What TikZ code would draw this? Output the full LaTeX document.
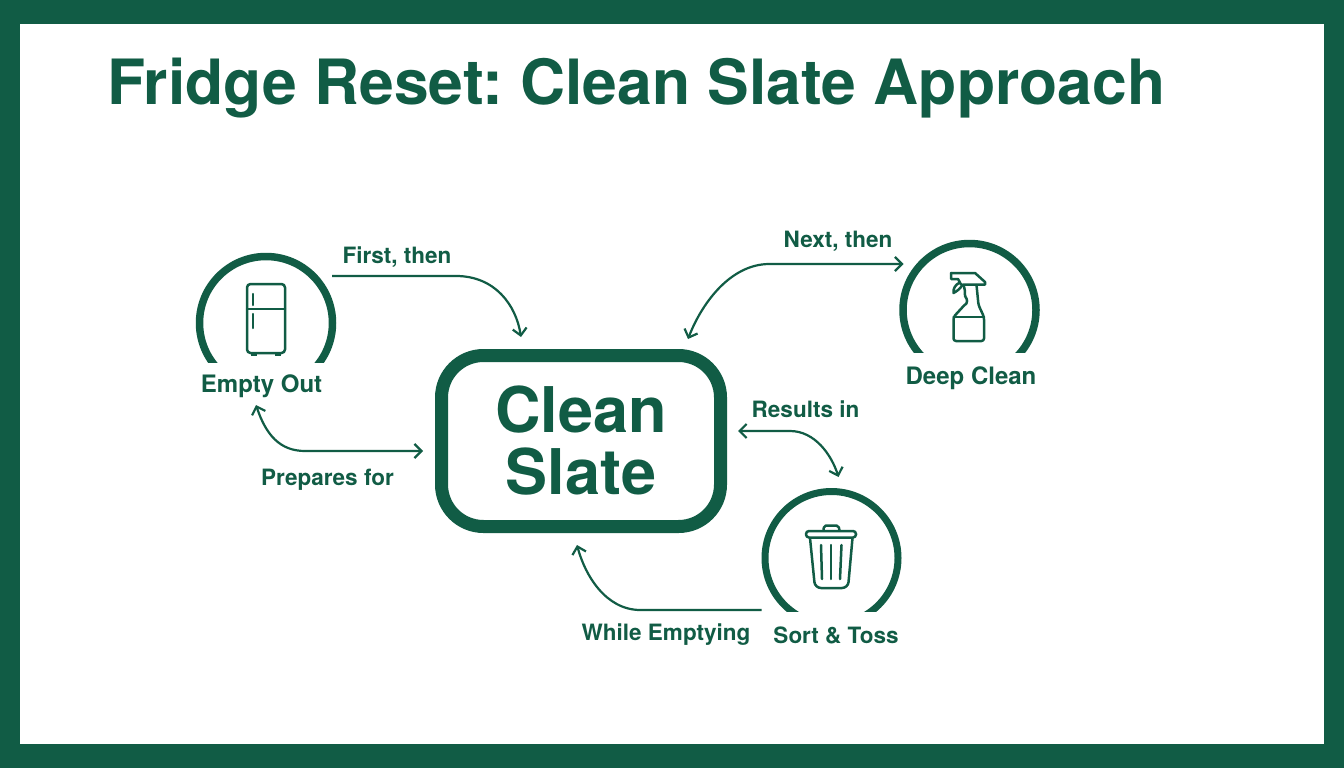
\documentclass[tikz,border=0pt]{standalone}
\usepackage{fontspec}
\setmainfont{TeX Gyre Heros}[BoldFont={* Bold}]
\usetikzlibrary{arrows.meta}
\definecolor{gr}{HTML}{115C45}
\frenchspacing
\tikzset{
 x=1pt,y=-1pt,
 conn/.style={draw=gr,line width=2.2pt,-{Straight Barb[length=7pt,width=14pt,line width=2.2pt]}},
 conn2/.style={draw=gr,line width=2.2pt,{Straight Barb[length=7pt,width=14pt,line width=2.2pt]}-{Straight Barb[length=7pt,width=14pt,line width=2.2pt]}},
 lab/.style={text=gr,font=\bfseries\fontsize{22.5}{24}\selectfont,inner sep=0pt},
 biglab/.style={text=gr,font=\bfseries\fontsize{24}{26}\selectfont,inner sep=0pt},
 ring/.style={circle,minimum size=132pt,inner sep=0pt},
 icon/.style={draw=gr,line width=2.5pt,line join=round,line cap=round},
}
\begin{document}
\begin{tikzpicture}
\useasboundingbox (0,0) rectangle (1344,768);
\fill[gr] (0,0) rectangle (1344,768);
\fill[white] (20,24) rectangle (1324,744);
\node[anchor=base west,inner sep=0pt,text=gr,font=\bfseries\fontsize{62.4}{66}\selectfont] (title) at (107,104) {Fridge Reset: Clean Slate Approach};
% hub
\node[draw=gr,line width=13pt,rounded corners=42pt,minimum width=279pt,minimum height=171pt,inner sep=0pt,outer sep=0pt,align=center,text=gr,font=\bfseries\fontsize{63}{62}\selectfont] (hub) at (581,441) {\raisebox{2pt}{Clean}\\\raisebox{2pt}{Slate}};
% rings
\node[ring] (empty) at (266,323) {};
\node[ring] (deep) at (969.5,310) {};
\node[ring] (sort) at (831.5,558) {};
\begin{scope}\clip (150,200) rectangle (400,362.5);
\draw[gr,line width=7.5pt] (empty.center) circle (66.5);\end{scope}
\begin{scope}\clip (850,200) rectangle (1100,352);
\draw[gr,line width=7.5pt] (deep.center) circle (66.5);\end{scope}
\begin{scope}\clip (720,450) rectangle (950,611.5);
\draw[gr,line width=7pt] (sort.center) circle (66.5);\end{scope}
% fridge icon
\draw[icon,rounded corners=3.5pt] (247,284) rectangle (285,353);
\draw[icon] (247,309) -- (285,309);
\draw[icon] (253,294) -- (253,305);
\draw[icon] (253,314) -- (253,328);
\fill[gr] (251,352) rectangle (257,356);
\fill[gr] (275,352) rectangle (281,356);
% spray icon
\draw[icon,rounded corners=2.5pt] (965,296) .. controls (968,300) and (967,303) .. (964.5,305) -- (953.5,317) -- (953.5,341) -- (984,341) -- (984,317) -- (978.5,305) -- (976.5,285);
\draw[icon] (953.5,317) -- (984,317);
\draw[icon] (951,273) -- (975,273) -- (985,282) -- (985,284.5) -- (963,284.5) .. controls (965,288) and (965,292) .. (965,296);
\draw[icon] (951,273) -- (951,279) -- (958,279) -- (961,284.5);
\draw[icon] (959,283) .. controls (955,285) and (953,289) .. (953.5,293) .. controls (957,291) and (960,289) .. (962,285.5);
% trash icon
\draw[icon,rounded corners=2pt] (823.5,530.5) -- (824,525.5) -- (838.5,525.5) -- (839.5,530.5);
\draw[icon,rounded corners=3pt] (806,531) rectangle (856,537.5);
\draw[icon,rounded corners=6pt] (810,538) -- (815,588) -- (848,588) -- (852.5,538);
\draw[icon] (821,545) -- (822,579);
\draw[icon] (831,545) -- (831,579);
\draw[icon] (841.5,545) -- (840,579);
% labels
\node[biglab] (emptyl) at (261.5,386) {Empty Out};
\node[biglab] (deepl) at (971,378) {Deep Clean};
\node[lab] (sortl) at (836,635) {Sort \& Toss};
\node[lab] (l1) at (397,257) {First, then};
\node[lab] (l2) at (327.5,480) {Prepares for};
\node[lab] (l3) at (838,241) {Next, then};
\node[lab] (l4) at (805.5,409) {Results in};
\node[lab] (l5) at (666,635) {While Emptying};
% connectors
\draw[conn] ([shift={(66,-47)}]empty.center) -- ++(124,0) .. controls +(39,0) and +(-5,-32) .. ([shift={(-60,-104)}]hub.center);
\draw[conn2] ([shift={(-10,82)}]empty.center) .. controls +(10,30) and +(-25,0) .. ([shift={(-276,10)}]hub.center) -- ([shift={(-158,10)}]hub.center);
\draw[conn2] ([shift={(-66,-46)}]deep.center) -- ([shift={(-200,-46)}]deep.center) .. controls +(-40,0) and +(13,-34) .. ([shift={(107,-102)}]hub.center);
\draw[conn2] ([shift={(157,-10)}]hub.center) -- ([shift={(209,-10)}]hub.center) .. controls +(25,0) and +(-7,-22) .. ([shift={(7,-81)}]sort.center);
\draw[conn] ([shift={(-70,52)}]sort.center) -- ([shift={(-191,52)}]sort.center) .. controls +(-35,0) and +(8,30) .. ([shift={(-4,104)}]hub.center);
\end{tikzpicture}
\end{document}
